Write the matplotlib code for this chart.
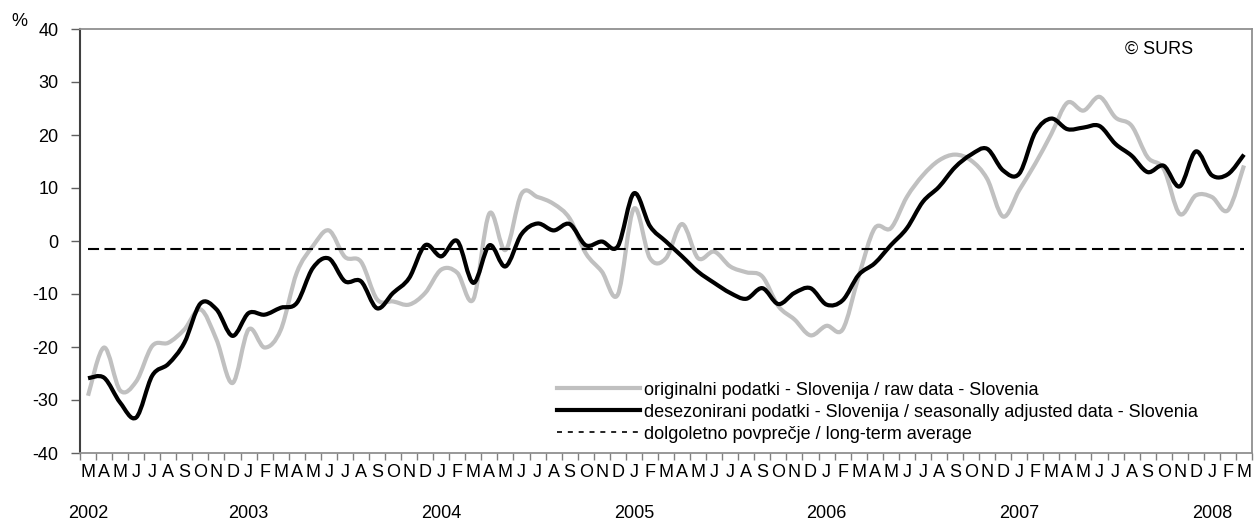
import numpy as np
import pandas as pd
import matplotlib
matplotlib.use("Agg")
import matplotlib.pyplot as plt
from matplotlib.path import Path
from matplotlib.patches import PathPatch
from matplotlib.lines import Line2D
import matplotlib.transforms as mtransforms

plt.rcParams['font.family'] = ['Liberation Sans', 'DejaVu Sans']
plt.rcParams['font.size'] = 13
plt.rcParams['axes.unicode_minus'] = False

# monthly categories, March 2002 - March 2008
months = pd.period_range('2002-03', '2008-03', freq='M')

raw_data = [-29.2, -20.1, -28.2, -26.5, -19.8, -19.2, -16.7, -12.9, -18.6, -26.8,
            -16.7, -20.1, -16.8, -6.0, -1.0, 2.0, -3.0, -3.9, -11.0, -11.4, -12.0, -9.8,
            -5.4, -6.0, -11.0, 5.2, -1.7, 8.9, 8.3, 7.0, 4.25, -2.3, -5.75, -10.1,
            6.1, -3.25, -3.25, 3.2, -3.25, -2.0, -4.8, -5.9, -6.7, -12.3, -14.8, -17.8,
            -16.0, -16.7, -6.7, 2.4, 2.4, 8.3, 12.4, 15.2, 16.3, 15.2, 11.75, 4.6,
            9.6, 14.6, 20.2, 26.1, 24.6, 27.2, 23.3, 21.75, 15.8, 13.6, 5.1, 8.6,
            8.3, 5.8, 14.25]

sa_data = [-25.9, -25.8, -30.5, -33.3, -25.4, -23.2, -19.2, -11.8, -12.9, -17.9,
           -13.6, -13.9, -12.6, -11.7, -5.1, -3.3, -7.6, -7.6, -12.7, -9.8, -7.0, -0.8,
           -2.9, 0.0, -7.9, -0.8, -4.8, 1.3, 3.3, 2.0, 3.2, -0.8, -0.1, -1.0,
           9.0, 2.8, -0.1, -2.9, -5.8, -7.9, -9.8, -10.9, -8.9, -11.9, -9.8, -8.9,
           -12.0, -11.2, -6.4, -4.2, -0.8, 2.4, 7.4, 10.2, 13.9, 16.3, 17.4, 13.3,
           12.7, 20.5, 23.1, 21.1, 21.4, 21.7, 18.3, 16.1, 13.0, 14.2, 10.3, 16.9,
           12.4, 12.6, 16.3]

long_term_avg = -1.6

labels = ['originalni podatki - Slovenija / raw data - Slovenia',
          'desezonirani podatki - Slovenija / seasonally adjusted data - Slovenia',
          'dolgoletno povprečje / long-term average']

month_letters = [m.strftime('%b')[0] for m in months]


def smooth_path(xs, ys, t=1 / 6):
    # Excel-like smoothed line as cubic bezier segments
    pts = np.column_stack([xs, ys]).astype(float)
    verts = [pts[0]]
    codes = [Path.MOVETO]
    n = len(pts)
    for k in range(n - 1):
        p0 = pts[k - 1] if k > 0 else pts[k]
        p1 = pts[k]
        p2 = pts[k + 1]
        p3 = pts[k + 2] if k + 2 < n else pts[k + 1]
        verts += [p1 + (p2 - p0) * t, p2 - (p3 - p1) * t, p2]
        codes += [Path.CURVE4] * 3
    return Path(np.array(verts), codes)


W, H = 1254, 529
fig = plt.figure(figsize=(W / 100, H / 100), dpi=100)
ax = fig.add_axes([80 / W, (H - 453) / H, 1172 / W, 424 / H])

x = np.arange(len(months))
gray = '#c0c0c0'

ax.add_patch(PathPatch(smooth_path(x, raw_data), fill=False, edgecolor=gray,
                       lw=3, joinstyle='round'))
ax.add_patch(PathPatch(smooth_path(x, sa_data), fill=False, edgecolor='black',
                       lw=3, joinstyle='round'))
ax.plot(x, [long_term_avg] * len(x), color='black', lw=1.5, dashes=(5.3, 2.6))

ax.set_xlim(-0.5, len(months) - 0.5)
ax.set_ylim(-40, 40)
ax.set_yticks(np.arange(-40, 41, 10))
ax.tick_params(axis='y', direction='out', length=6.5, width=1, color='#606060',
               pad=9, labelsize=13)

ax.set_xticks(np.arange(-0.5, len(months), 1))
ax.set_xticklabels([])
ax.tick_params(axis='x', which='major', direction='out', length=5, width=1,
               color='#808080')
ax.set_xticks(x, minor=True)
ax.set_xticklabels(month_letters, minor=True)
ax.tick_params(axis='x', which='minor', length=0, pad=8, labelsize=13)

for side in ['top', 'right', 'bottom']:
    ax.spines[side].set_color('#909090')
    ax.spines[side].set_linewidth(1.3)
ax.spines['left'].set_color('#404040')
ax.spines['left'].set_linewidth(1.5)

trans = mtransforms.blended_transform_factory(ax.transData, ax.transAxes)
for i, m in enumerate(months):
    if i == 0 or m.month == 1:
        ax.text(i, -0.143, str(m.year), transform=trans, ha='center',
                va='center', fontsize=13)

fig.text(19 / W, 1 - 22 / H, '%', ha='center', va='center', fontsize=13)
ax.text(0.921, 0.952, '© SURS', transform=ax.transAxes, ha='center',
        va='center', fontsize=13)

handles = [Line2D([], [], color=gray, lw=3),
           Line2D([], [], color='black', lw=3),
           Line2D([], [], color='black', lw=1.2, dashes=(3, 3.5))]
ax.legend(handles, labels, loc='upper left', bbox_to_anchor=(0.407, 0.168),
          frameon=False, borderpad=0, borderaxespad=0, handlelength=4.6,
          handletextpad=0.2, labelspacing=0.27, fontsize=13)

fig.savefig('out.png', dpi=100)
